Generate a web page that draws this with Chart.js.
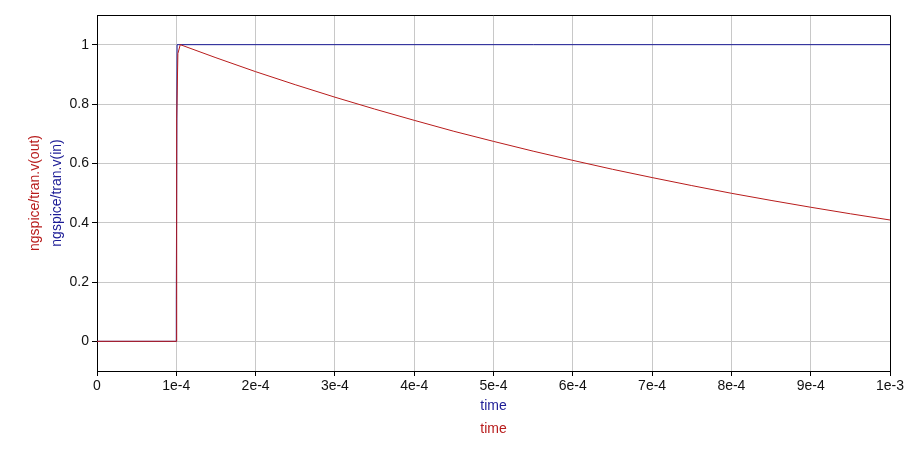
<!DOCTYPE html>
<html>
<head>
<meta charset="utf-8">
<script src="https://cdn.jsdelivr.net/npm/chart.js@4/dist/chart.umd.min.js"></script>
<style>
  html, body { margin: 0; padding: 0; background: #fff; }
  #wrap { width: 913px; height: 473px; position: relative; }
</style>
</head>
<body>
<div id="wrap"><canvas id="tranChart" width="913" height="473"></canvas></div>
<script>
// --- Dados ---
const outTime = [0, 1e-4, 1.005e-4, 1.02e-4, 1.05e-4, 1.5e-4, 2e-4, 2.5e-4, 3e-4, 3.5e-4, 4e-4, 4.5e-4,
                 5e-4, 5.5e-4, 6e-4, 6.5e-4, 7e-4, 7.5e-4, 8e-4, 8.5e-4, 9e-4, 9.5e-4, 1e-3];
const outValues = [0, 0, 0.75, 0.97, 1.0, 0.956, 0.909, 0.865, 0.823, 0.783, 0.745, 0.708,
                   0.674, 0.641, 0.610, 0.580, 0.552, 0.525, 0.499, 0.475, 0.452, 0.430, 0.409];
const inTime = [0, 1e-4, 1e-4, 1.01e-4, 1e-3];
const inValues = [0, 0, 0.14, 1.0, 1.0];

const xTickValues = [0, 1e-4, 2e-4, 3e-4, 4e-4, 5e-4, 6e-4, 7e-4, 8e-4, 9e-4, 1e-3];
const xTickLabels = ['0', '1e-4', '2e-4', '3e-4', '4e-4', '5e-4', '6e-4', '7e-4', '8e-4', '9e-4', '1e-3'];
const yTickValues = [0, 0.2, 0.4, 0.6, 0.8, 1];
const yTickLabels = ['0', '0.2', '0.4', '0.6', '0.8', '1'];

const RED = '#b81c1c';
const BLUE = '#1c1c96';
const FONT = '"Liberation Sans", Arial, sans-serif';

function toPoints(xs, ys) {
    return xs.map((x, i) => ({ x: x, y: ys[i] }));
}

// desenha moldura e títulos dos eixos
const titlesPlugin = {
    id: 'titles',
    afterDraw(chart) {
        const { ctx, chartArea: a } = chart;
        ctx.save();
        ctx.strokeStyle = '#000';
        ctx.lineWidth = 1;
        ctx.beginPath();
        ctx.moveTo(a.left, a.top + 0.5);
        ctx.lineTo(a.right + 0.5, a.top + 0.5);
        ctx.lineTo(a.right + 0.5, a.bottom);
        ctx.stroke();

        ctx.font = '14px ' + FONT;
        ctx.textAlign = 'center';
        ctx.textBaseline = 'middle';
        const cx = (a.left + a.right) / 2;
        ctx.fillStyle = BLUE;
        ctx.fillText('time', cx, 406);
        ctx.fillStyle = RED;
        ctx.fillText('time', cx, 429);

        const cy = (a.top + a.bottom) / 2;
        ctx.translate(35, cy);
        ctx.rotate(-Math.PI / 2);
        ctx.fillStyle = RED;
        ctx.fillText('ngspice/tran.v(out)', 0, 0);
        ctx.translate(0, 22);
        ctx.fillStyle = BLUE;
        ctx.fillText('ngspice/tran.v(in)', 0, 0);
        ctx.restore();
    }
};

new Chart(document.getElementById('tranChart'), {
    type: 'scatter',
    data: {
        datasets: [
            {
                label: 'ngspice/tran.v(out)',
                data: toPoints(outTime, outValues),
                showLine: true,
                borderColor: RED,
                borderWidth: 1,
                pointRadius: 0,
                tension: 0
            },
            {
                label: 'ngspice/tran.v(in)',
                data: toPoints(inTime, inValues),
                showLine: true,
                borderColor: BLUE,
                borderWidth: 1,
                pointRadius: 0,
                tension: 0
            }
        ]
    },
    options: {
        responsive: false,
        animation: false,
        layout: { padding: { left: 0, right: 23, top: 15, bottom: 0 } },
        plugins: { legend: { display: false }, tooltip: { enabled: false } },
        scales: {
            x: {
                type: 'linear',
                min: 0,
                max: 1e-3,
                afterBuildTicks: s => { s.ticks = xTickValues.map(v => ({ value: v })); },
                afterFit: s => { s.height = 102; },
                ticks: {
                    color: '#111',
                    font: { family: FONT, size: 14 },
                    padding: 2,
                    maxRotation: 0,
                    callback: (v, i) => xTickLabels[i]
                },
                grid: { color: '#c8c8c8', tickColor: '#000', tickLength: 5 },
                border: { color: '#000', width: 1 }
            },
            y: {
                min: -0.1,
                max: 1.1,
                afterBuildTicks: s => { s.ticks = yTickValues.map(v => ({ value: v })); },
                afterFit: s => { s.width = 97; },
                ticks: {
                    color: '#111',
                    font: { family: FONT, size: 14 },
                    padding: 3,
                    callback: (v, i) => yTickLabels[i]
                },
                grid: { color: '#c8c8c8', tickColor: '#000', tickLength: 5 },
                border: { color: '#000', width: 1 }
            }
        }
    },
    plugins: [titlesPlugin]
});
</script>
</body>
</html>
